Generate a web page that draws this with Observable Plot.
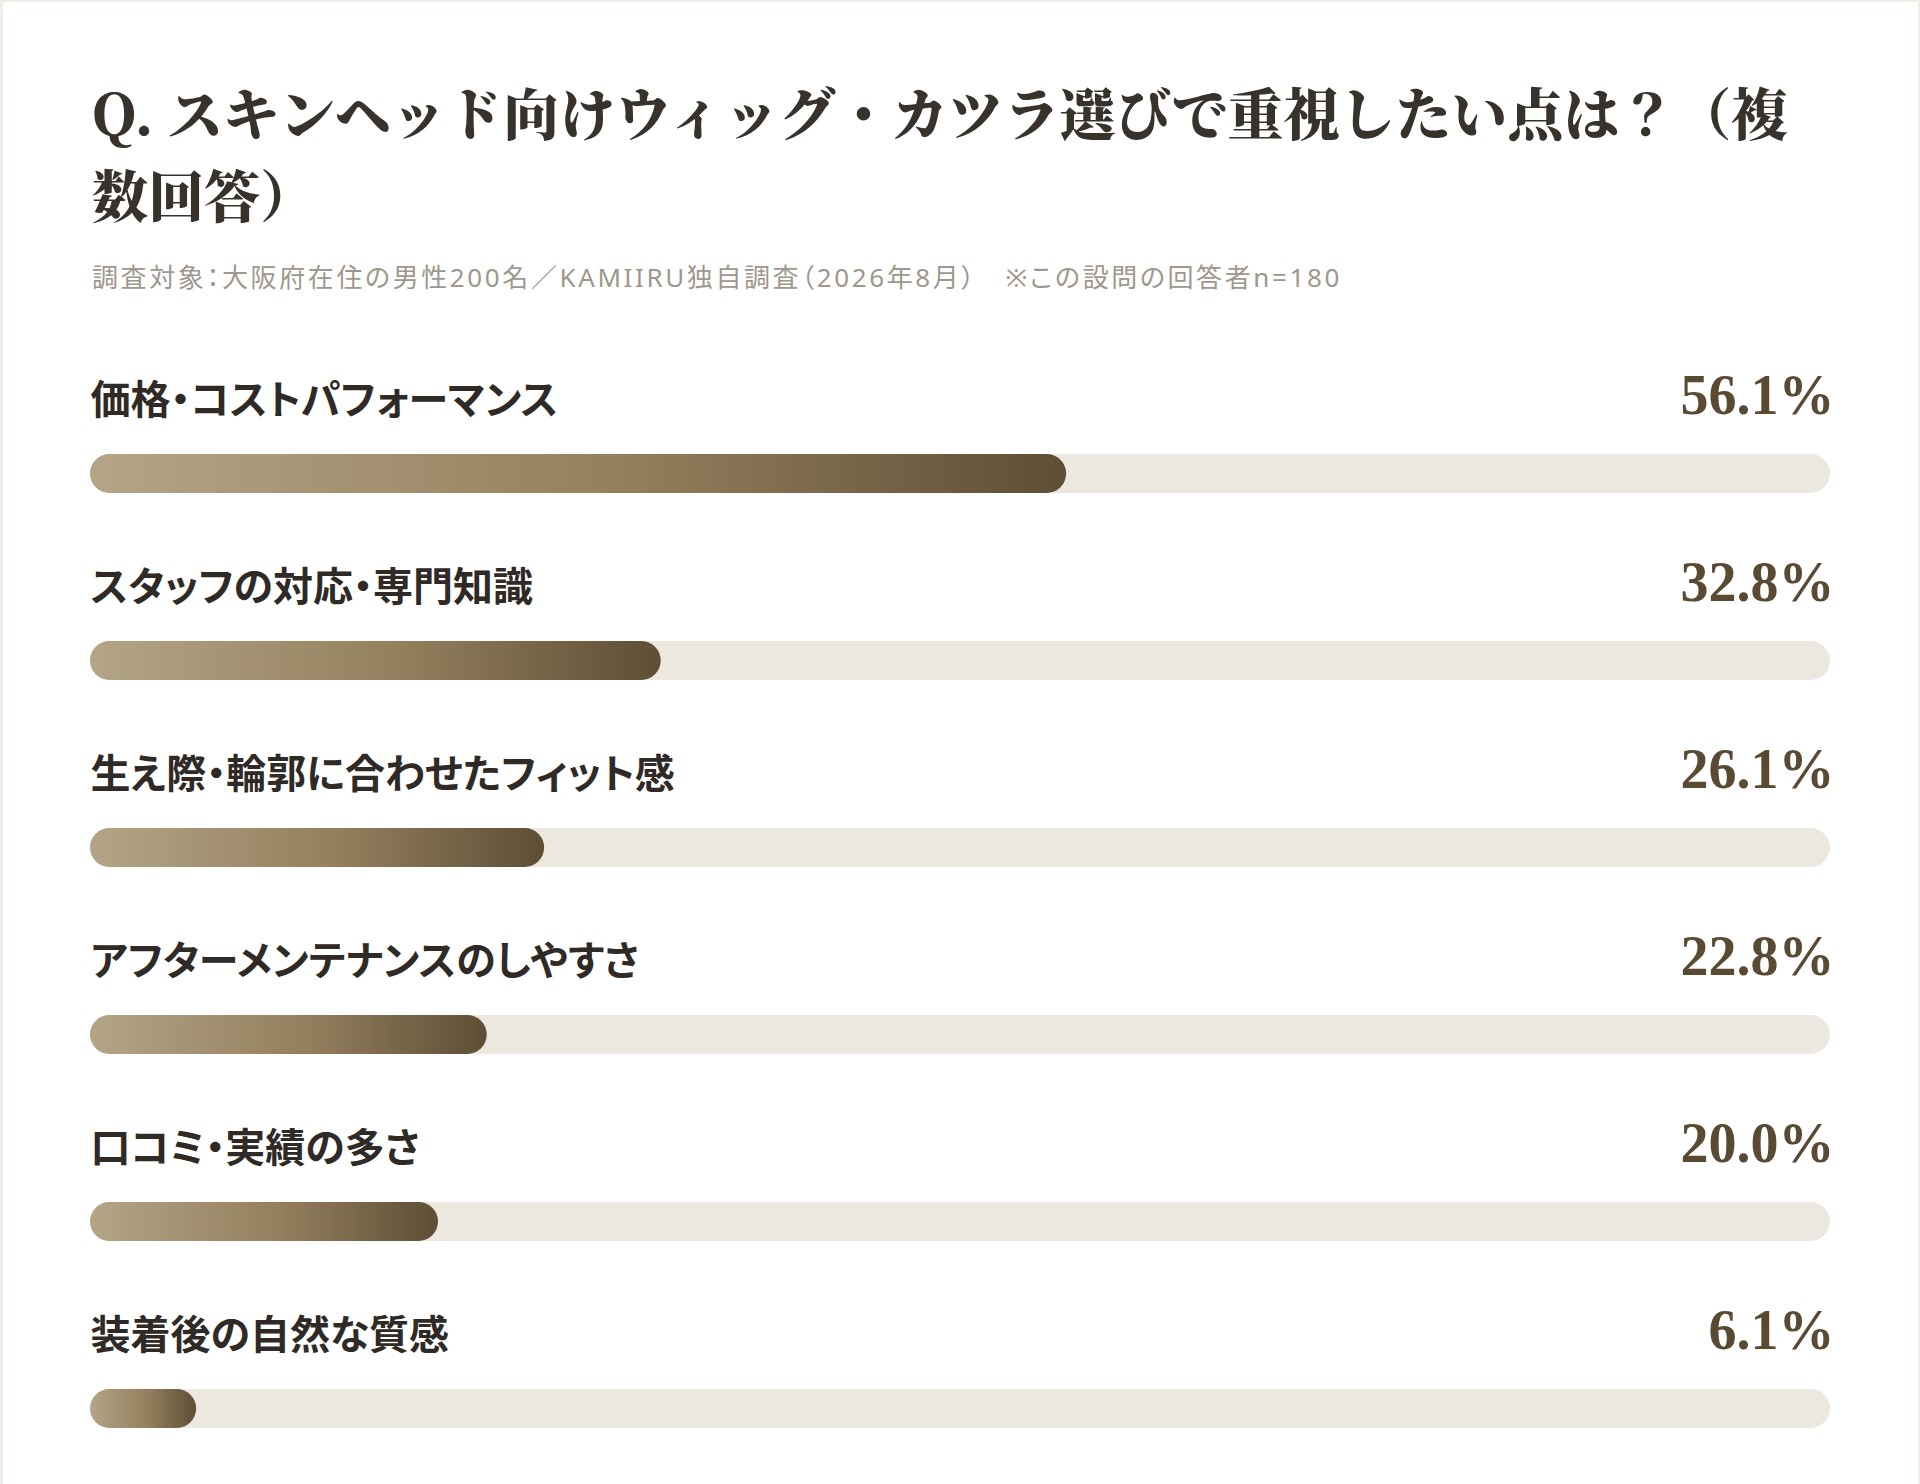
<!DOCTYPE html>
<html lang="ja">
<head>
<meta charset="utf-8">
<script src="https://cdn.jsdelivr.net/npm/d3@7"></script>
<script src="https://cdn.jsdelivr.net/npm/@observablehq/plot@0.6"></script>
<style>
  html, body { margin: 0; padding: 0; }
  body { background: #f0ede6; width: 1920px; height: 1484px; overflow: hidden; }
  .card { position: absolute; left: 3px; top: 2px; width: 1915px; height: 1482px; background: #ffffff; }
  .title {
    position: absolute; left: 89px; top: 68px; width: 1740px; margin: 0;
    font-family: "Noto Serif CJK JP", "Noto Serif JP", "Liberation Serif", serif;
    font-weight: 900; font-size: 56px; line-height: 82px; color: #38322c;
  }
  .subtitle {
    position: absolute; left: 89px; top: 257px; margin: 0; white-space: nowrap;
    font-family: "Noto Sans", "Noto Sans CJK JP", sans-serif; font-weight: 400;
    font-size: 26px; line-height: 36px; letter-spacing: 0.1em; color: #9e978d;
    font-feature-settings: "palt";
  }
  #chart { position: absolute; left: 0; top: 318px; }
  #chart svg text { font-feature-settings: "palt"; }
</style>
</head>
<body>
<div class="card">
  <h1 class="title">Q. スキンヘッド向けウィッグ・カツラ選びで重視したい点は？（複数回答）</h1>
  <p class="subtitle">調査対象：大阪府在住の男性200名／KAMIIRU独自調査（2026年8月）　※この設問の回答者n=180</p>
  <div id="chart"></div>
</div>
<script>
const categories = [
  "価格・コストパフォーマンス",
  "スタッフの対応・専門知識",
  "生え際・輪郭に合わせたフィット感",
  "アフターメンテナンスのしやすさ",
  "口コミ・実績の多さ",
  "装着後の自然な質感"
];
const values = [56.1, 32.8, 26.1, 22.8, 20.0, 6.1];
const xDomain = [0, 100];

const data = categories.map((c, i) => ({category: c, value: values[i]}));

const chart = Plot.plot({
  width: 1915,
  height: 1164,
  marginLeft: 87,
  marginRight: 88,
  marginTop: 0,
  marginBottom: 0,
  style: {background: "transparent", overflow: "visible"},
  x: {domain: xDomain, axis: null},
  y: {type: "band", domain: categories, range: [60, 1182], paddingInner: 1 - 39 / 187, paddingOuter: (1 - 39 / 187) / 2, axis: null},
  marks: [
    Plot.barX(data, {y: "category", x1: 0, x2: xDomain[1], fill: "#ede8df", rx: 19.5, ry: 19.5}),
    Plot.barX(data, {y: "category", x1: 0, x2: "value", fill: "url(#barGrad)", rx: 19.5, ry: 19.5}),
    Plot.text(data, {
      y: "category", x: 0, text: "category", textAnchor: "start", lineAnchor: "bottom", dy: -60,
      fontFamily: "'Noto Sans CJK JP', sans-serif", fontSize: 40, fontWeight: 700, fill: "#2f2a26"
    }),
    Plot.text(data, {
      y: "category", x: xDomain[1], text: d => d.value.toFixed(1) + "%", textAnchor: "end", lineAnchor: "bottom", dy: -60, dx: 4,
      fontFamily: "'Liberation Serif', 'Times New Roman', serif", fontSize: 56, fontWeight: 700, fill: "#5b4a33"
    })
  ]
});

const defs = d3.select(chart).insert("defs", ":first-child");
const g = defs.append("linearGradient").attr("id", "barGrad")
  .attr("x1", "0").attr("y1", "0").attr("x2", "1").attr("y2", "0");
g.append("stop").attr("offset", "0").attr("stop-color", "#b4a587");
g.append("stop").attr("offset", "0.55").attr("stop-color", "#937f5d");
g.append("stop").attr("offset", "1").attr("stop-color", "#5e4e35");

document.getElementById("chart").appendChild(chart);
</script>
</body>
</html>
